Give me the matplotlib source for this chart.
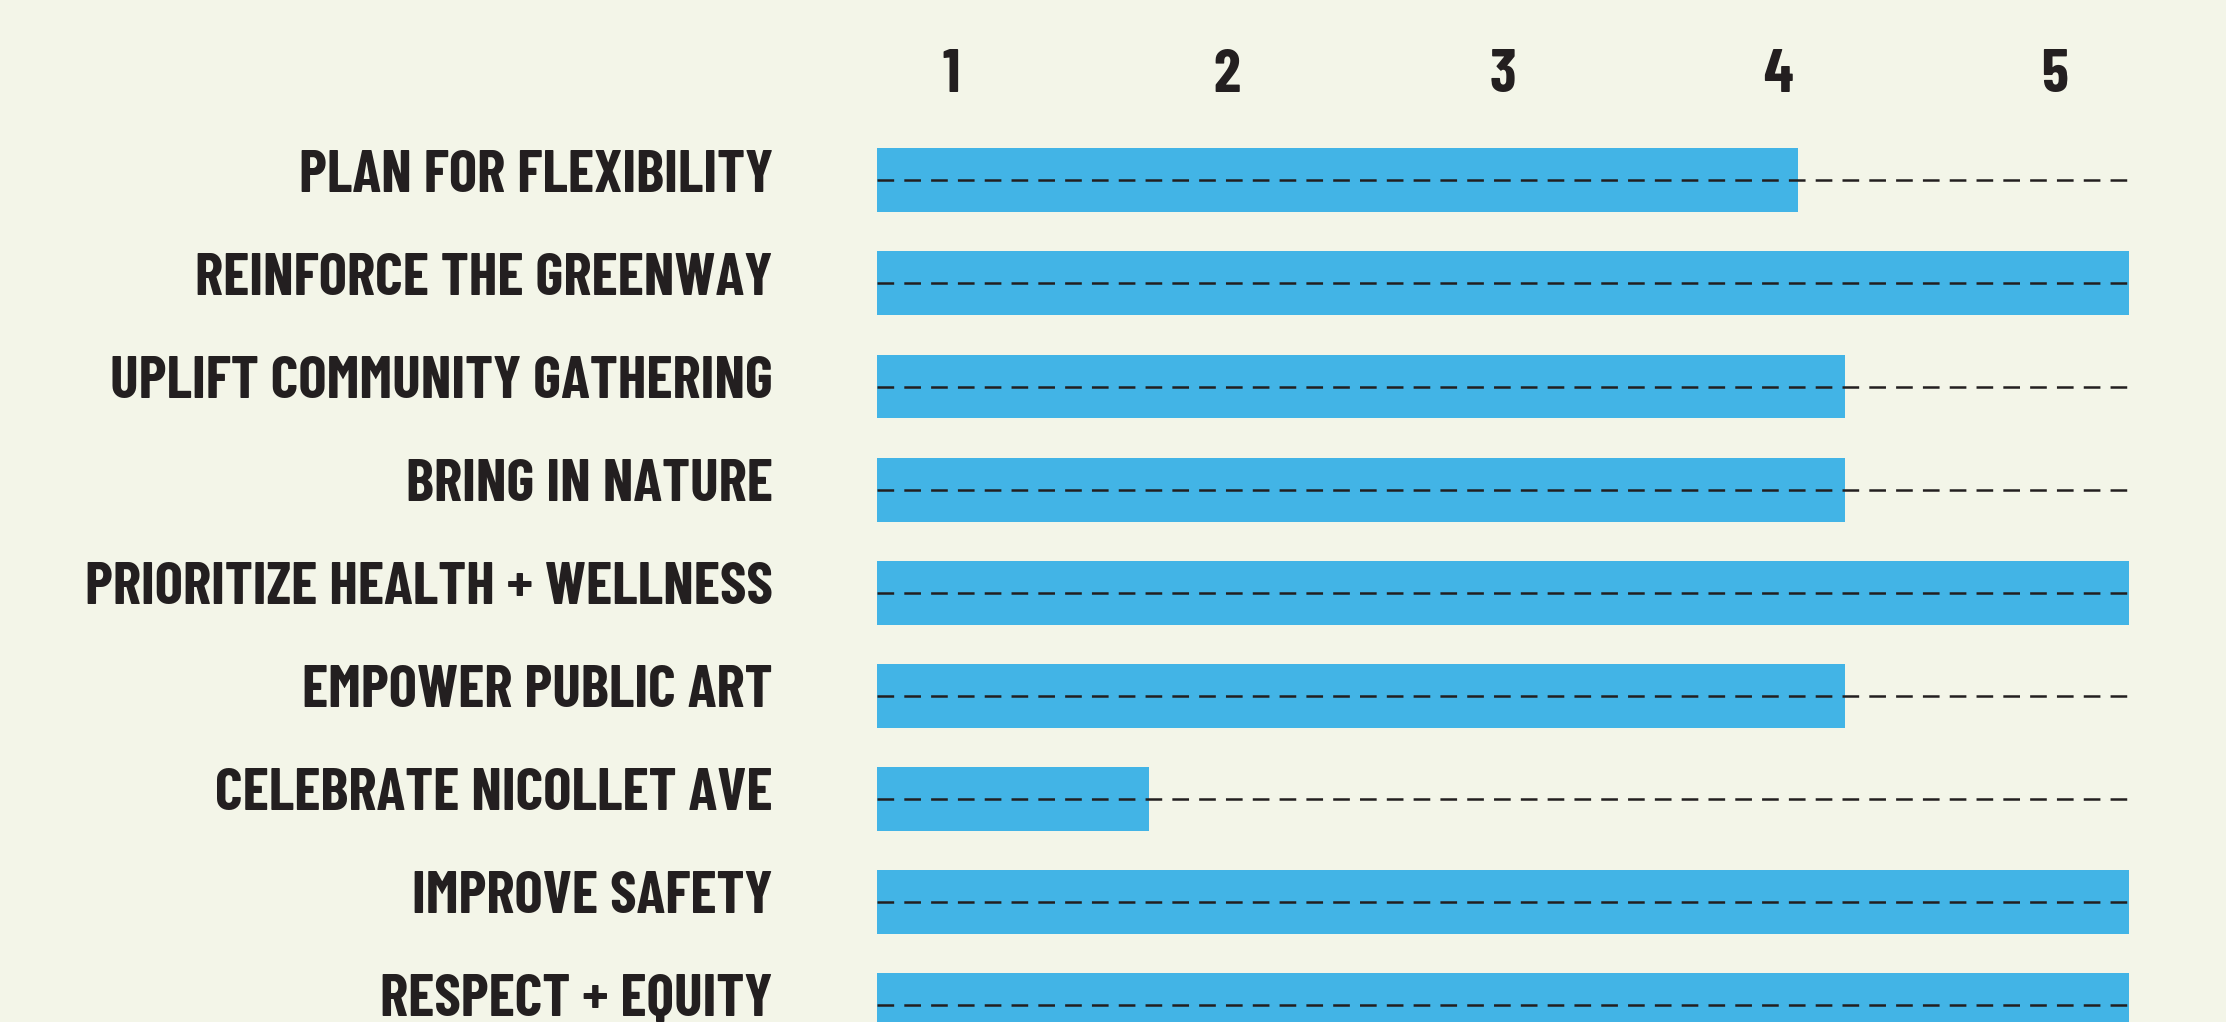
import matplotlib
matplotlib.use("Agg")
import matplotlib.pyplot as plt
import matplotlib.transforms as mtransforms
from matplotlib import font_manager

categories = [
    "PLAN FOR FLEXIBILITY",
    "REINFORCE THE GREENWAY",
    "UPLIFT COMMUNITY GATHERING",
    "BRING IN NATURE",
    "PRIORITIZE HEALTH + WELLNESS",
    "EMPOWER PUBLIC ART",
    "CELEBRATE NICOLLET AVE",
    "IMPROVE SAFETY",
    "RESPECT + EQUITY",
]
values = [4.07, 5.27, 4.24, 4.24, 5.27, 4.24, 1.72, 5.27, 5.27]
tick_values = [1, 2, 3, 4, 5]
tick_labels = ["1", "2", "3", "4", "5"]

XMIN, XMAX = 0.732, 5.275

BG = "#F3F5E8"
BAR = "#42B4E6"
INK = "#231F20"

names = {f.name for f in font_manager.fontManager.ttflist}
FONT = dict(family="DejaVu Sans", weight="bold", stretch="condensed")
for cand in ["Barlow Condensed", "Fira Sans Extra Condensed", "Roboto Condensed"]:
    if cand in names:
        FONT = dict(family=cand, weight=700)
        break

plt.rcParams["lines.scale_dashes"] = False

W, H = 2226, 1022
fig = plt.figure(figsize=(W / 100, H / 100), dpi=100, facecolor=BG)
ax_top_px = 110
ax = fig.add_axes([877 / W, 0, (2130 - 877) / W, (H - ax_top_px) / H])
ax.set_facecolor(BG)

row0, step = 180.3, 103.1
ytop = (ax_top_px - row0) / step
ybot = (H - row0) / step
ypos = list(range(len(categories)))

ax.barh(ypos, [v - XMIN for v in values], left=XMIN, height=0.62,
        color=BAR, edgecolor="none", zorder=1)
ax.hlines(ypos, XMIN, XMAX, colors=INK, linewidth=1.8,
          linestyles=(0, (12, 7.3)), zorder=2)

ax.set_xlim(XMIN, XMAX)
ax.set_ylim(ybot, ytop)

ax.xaxis.tick_top()
ax.set_xticks(tick_values)
ax.set_xticklabels(tick_labels, fontsize=44, color=INK, **FONT)
ax.set_yticks(ypos)
ax.set_yticklabels(categories, fontsize=43, color=INK, **FONT)
ax.tick_params(axis="x", length=0, pad=5)
ax.tick_params(axis="y", length=0, pad=75)
shift = mtransforms.ScaledTranslation(0, 7 / 72, fig.dpi_scale_trans)
for lab in ax.get_yticklabels():
    lab.set_transform(lab.get_transform() + shift)
for s in ax.spines.values():
    s.set_visible(False)

fig.savefig("out.png", dpi=100, facecolor=BG)
